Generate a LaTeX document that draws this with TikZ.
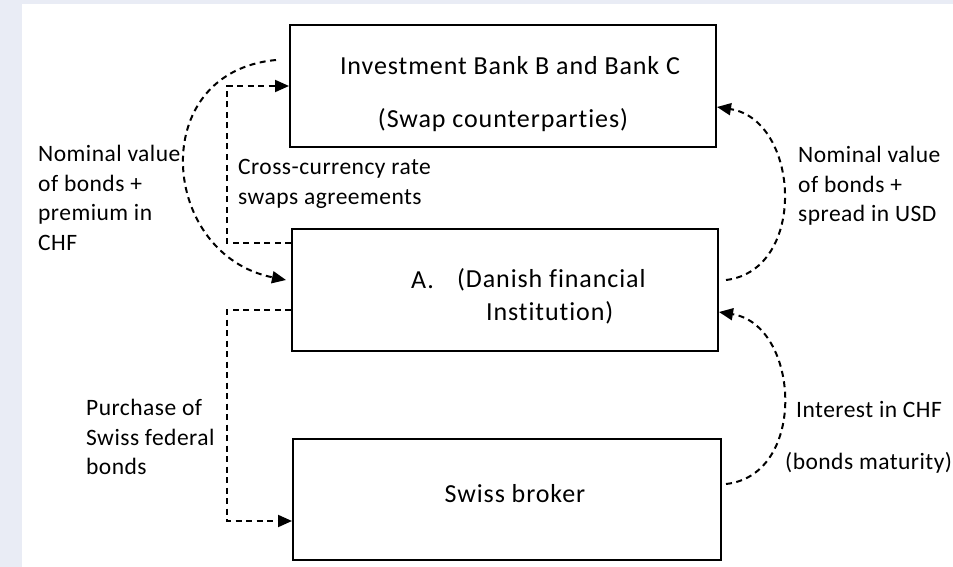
\documentclass[tikz,border=0pt]{standalone}
\usepackage{fontspec}
\setmainfont[Ligatures=NoCommon]{Carlito}
\newfontfamily\boxfont[LetterSpace=3.5,Ligatures=NoCommon]{Carlito}
\newfontfamily\sidefont[LetterSpace=2,Ligatures=NoCommon]{Carlito}
\usetikzlibrary{arrows.meta}
\definecolor{pageedge}{HTML}{E9ECF5}
\tikzset{
  box/.style={draw, line width=2pt, minimum width=#1, minimum height=122pt, inner sep=0pt},
  txt/.style={inner sep=0pt, font=\sidefont\fontsize{23.5}{29.5}\selectfont, align=left},
  btxt/.style={inner sep=0pt, font=\boxfont\fontsize{26}{30}\selectfont, align=left},
  flow/.style={line width=2pt, dash pattern=on 6pt off 4.5pt,
    -{Triangle[length=14pt,width=12pt]}}
}
\begin{document}
\begin{tikzpicture}[x=1pt,y=-1pt]
  % page background
  \fill[pageedge] (0,0) rectangle (953,567);
  \fill[white] (22,4) rectangle (953,567);
  \useasboundingbox (0,0) rectangle (953,567);

  % boxes
  \node[box=426pt] (b1) at (503,86) {};
  \node[box=426pt] (b2) at (505,290) {};
  \node[box=428pt, minimum height=121pt] (b3) at (507,499.5) {};

  % box texts
  \node[btxt] (t1a) at (510,66) {Investment Bank B and Bank C};
  \node[btxt] (t1b) at (503,120) {(Swap counterparties)};
  \node[btxt, anchor=west] (t2a) at (411,280) {A.};
  \node[btxt, anchor=west] (t2b) at (457,280) {(Danish financial};
  \node[btxt, anchor=west] (t2c) at (486,313) {Institution)};
  \node[btxt] (t3) at (515,494) {Swiss broker};

  % side labels
  \node[txt, anchor=west] (l1) at (38,198) {Nominal value\\of bonds +\\premium in\\CHF};
  \node[txt, anchor=west] (l2) at (238,184) {Cross-currency rate\\swaps agreements};
  \node[txt, anchor=west] (l3) at (798,186) {Nominal value\\of bonds +\\spread in USD};
  \node[txt, anchor=west] (l4) at (86,437) {Purchase of\\Swiss federal\\bonds};
  \node[txt, anchor=west] (l5) at (796,409) {Interest in CHF};
  \node[txt, anchor=west] (l6) at (785,463) {(bonds maturity)};

  % free ends of the curved flows
  \coordinate (s1) at ([xshift=-13pt,yshift=26pt]b1.west);
  \coordinate (s3) at ([xshift=7pt,yshift=10pt]b2.east);
  \coordinate (s5) at ([xshift=4pt,yshift=15.5pt]b3.east);

  % flows
  \draw[flow] (s1) .. controls (145,72) and (160,255) .. ([xshift=-5pt,yshift=10pt]b2.west);
  \draw[flow] ([yshift=47pt]b2.west) -- ++(-64,0) |- (b1.west);
  \draw[flow] (s3) .. controls (808,270) and (800,120) .. ([yshift=-21pt]b1.east);
  \draw[flow] ([yshift=-20pt]b2.west) -- ++(-64,0) |- ([yshift=-21.5pt]b3.west);
  \draw[flow] (s5) .. controls (808,475) and (800,325) .. ([yshift=-22pt]b2.east);
\end{tikzpicture}
\end{document}
